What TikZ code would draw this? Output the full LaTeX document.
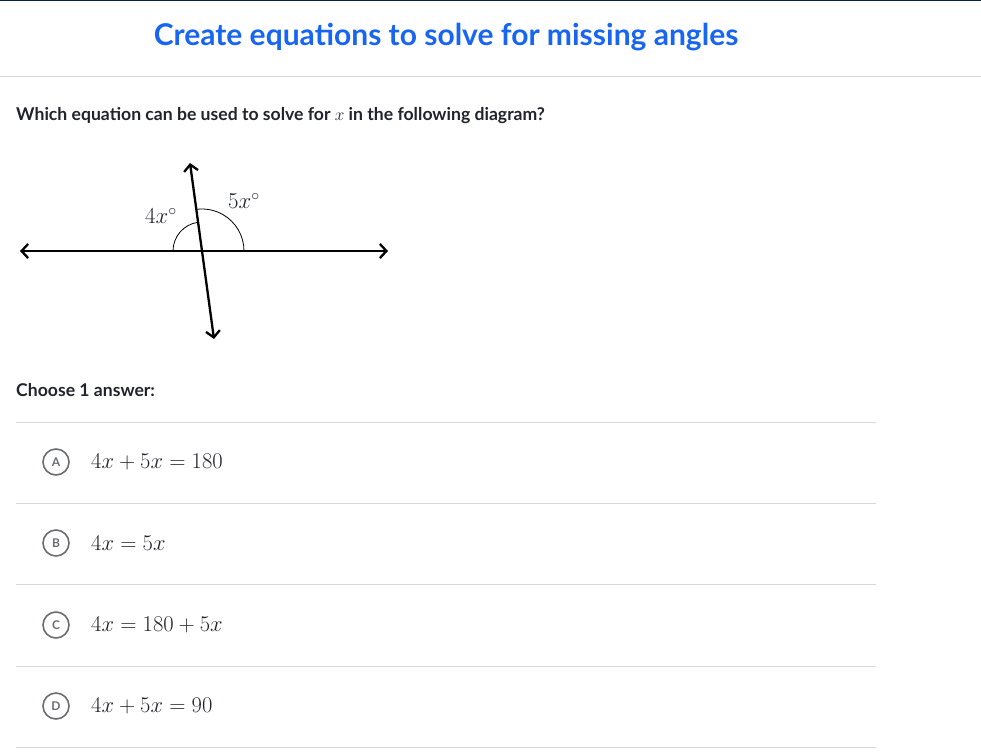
\documentclass[tikz,border=0pt]{standalone}
\usepackage{fontspec}
\setmainfont{Lato}
\usetikzlibrary{arrows.meta}
\definecolor{kablue}{HTML}{1865F2}
\definecolor{kanavy}{HTML}{0B2149}
\definecolor{ink}{HTML}{21242C}
\definecolor{rulegray}{HTML}{D6D8DA}
\definecolor{circgray}{HTML}{6B6D71}
\begin{document}
\begin{tikzpicture}[x=1pt,y=-1pt, every node/.style={text=ink},
  sep/.style={rulegray, line width=1pt},
  ray/.style={line width=2.3pt, {Straight Barb[length=6.5pt,width=14pt]}-{Straight Barb[length=6.5pt,width=14pt]}},
  choice/.style={circle, draw=circgray, line width=1.6pt, minimum size=26pt, inner sep=0pt, text=circgray, font=\bfseries\fontsize{12}{12}\selectfont},
  eqn/.style={anchor=west, inner sep=0pt, font=\fontsize{20}{20}\selectfont}]
\useasboundingbox (0,0) rectangle (981,752);
\fill[white] (0,0) rectangle (981,752);
\fill[kanavy] (0,0) rectangle (981,1.5);
\node[text=kablue, font=\bfseries\fontsize{30}{30}\selectfont] (title) at (446,37) {Create equations to solve for missing angles};
\draw[sep] (0,76) -- (981,76);
\node[anchor=west, inner sep=0pt, font=\bfseries\fontsize{17.6}{17.6}\selectfont] (question) at (16,116) {Which equation can be used to solve for $x$ in the following diagram?};
% the two lines
\coordinate (O) at (202,251);
\draw[ray] (20,251) -- (388,251);
\draw[ray] (190,163) -- (214,339);
\draw[line width=0.8pt] ([xshift=-29pt]O) arc[start angle=180, end angle=262.2, radius=29];
\draw[line width=0.8pt] ([xshift=42pt]O) arc[start angle=0, end angle=-97.8, radius=42];
\node[font=\fontsize{20}{20}\selectfont] (angA) at (161,216) {\scalebox{1.1}{$4x^\circ$}};
\node[font=\fontsize{20}{20}\selectfont] (angB) at (244,201) {\scalebox{1.1}{$5x^\circ$}};
% answers
\node[anchor=west, inner sep=0pt, font=\bfseries\fontsize{17.6}{17.6}\selectfont] (choose) at (16,390) {Choose 1 answer:};
\foreach \y in {422,503,584,666,747} \draw[sep] (16,\y) -- (876,\y);
\foreach \l/\y/\eq in {A/462/{4x+5x=180}, B/543/{4x=5x}, C/625/{4x=180+5x}, D/706/{4x+5x=90}}{
  \node[choice] (opt\l) at (56,\y) {\l};
  \node[eqn] (eq\l) at (91,\y) {\scalebox{1.085}{$\eq$}};
}
\end{tikzpicture}
\end{document}
